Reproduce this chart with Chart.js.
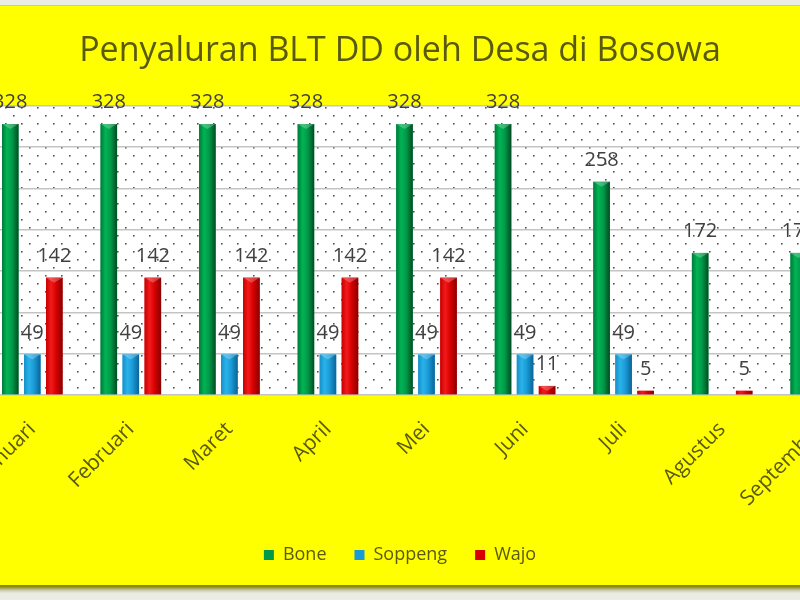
<!DOCTYPE html>
<html>
<head>
<meta charset="utf-8">
<script src="https://cdn.jsdelivr.net/npm/chart.js@4"></script>
<style>
  html, body { margin: 0; padding: 0; width: 800px; height: 600px; overflow: hidden; background: #ecece6; }
  #frame {
    position: absolute; left: -10px; top: 5px; width: 820px; height: 579px;
    background: #ffff00; border-top: 1px solid #c8c8b8;
    box-shadow: 0 3px 2px #8a8a00, 0 6px 3px #b8b890;
  }
  #wrap { position: absolute; left: -70px; top: 0; width: 940px; height: 600px; }
</style>
</head>
<body>
<div id="frame"></div>
<div id="wrap"><canvas id="chart"></canvas></div>
<script>
const months = ["Januari", "Februari", "Maret", "April", "Mei", "Juni", "Juli", "Agustus", "September"];
const bone = [328, 328, 328, 328, 328, 328, 258, 172, 172];
const soppeng = [49, 49, 49, 49, 49, 49, 49, null, null];
const wajo = [142, 142, 142, 142, 142, 11, 5, 5, 5];

const y_ticks = [0, 50, 100, 150, 200, 250, 300, 350];

const text_col = "#5a5a0e";
const font_name = "'Open Sans', sans-serif";

// shading for the round look of the bars: edge, light, mid, dark edge
const shades = [
  ["#007a38", "#00b455", "#009a48", "#004d22"],
  ["#1590c8", "#2bb2ea", "#1a9ad6", "#0a6498"],
  ["#c80000", "#f21a1a", "#d80000", "#880000"],
];

function dot_pattern(ctx) {
  const c = document.createElement("canvas");
  c.width = 16;
  c.height = 16;
  const p = c.getContext("2d");
  p.fillStyle = "#ffffff";
  p.fillRect(0, 0, 16, 16);
  p.fillStyle = "#555555";
  p.fillRect(3, 3, 1.6, 1.6);
  p.fillRect(11, 11, 1.6, 1.6);
  return ctx.createPattern(c, "repeat");
}

const plot_back = {
  id: "plot_back",
  beforeDraw(chart) {
    const { ctx, chartArea: a } = chart;
    ctx.save();
    ctx.fillStyle = dot_pattern(ctx);
    ctx.fillRect(a.left, a.top, a.right - a.left, a.bottom - a.top);
    ctx.restore();
  },
};

const bar_look = {
  id: "bar_look",
  afterDatasetsDraw(chart) {
    const ctx = chart.ctx;
    ctx.save();
    chart.data.datasets.forEach((ds, i) => {
      const meta = chart.getDatasetMeta(i);
      meta.data.forEach((el, j) => {
        const v = ds.data[j];
        if (v === null || v === undefined) return;
        const { x, y, base, width } = el.getProps(["x", "y", "base", "width"], true);
        const l = x - width / 2;
        const g = ctx.createLinearGradient(l, 0, l + width, 0);
        const s = shades[i];
        g.addColorStop(0, s[0]);
        g.addColorStop(0.3, s[1]);
        g.addColorStop(0.6, s[2]);
        g.addColorStop(1, s[3]);
        ctx.fillStyle = g;
        ctx.fillRect(l, y, width, base - y);
        // small cap on top
        if (base - y > 6) {
          ctx.fillStyle = "rgba(255,255,255,0.25)";
          ctx.beginPath();
          ctx.moveTo(l, y);
          ctx.lineTo(l + width, y);
          ctx.lineTo(x, y + 5);
          ctx.closePath();
          ctx.fill();
        }
        // value label
        ctx.fillStyle = "#404040";
        ctx.font = "20px " + font_name;
        ctx.textAlign = "center";
        ctx.textBaseline = "alphabetic";
        ctx.fillText(String(v), x, y - 16);
      });
    });
    ctx.restore();
  },
};

new Chart(document.getElementById("chart"), {
  type: "bar",
  data: {
    labels: months,
    datasets: [
      { label: "Bone", data: bone, backgroundColor: "#009a48" },
      { label: "Soppeng", data: soppeng, backgroundColor: "#1a9ad6" },
      { label: "Wajo", data: wajo, backgroundColor: "#d80000" },
    ],
  },
  options: {
    responsive: true,
    maintainAspectRatio: false,
    animation: false,
    devicePixelRatio: 1,
    categoryPercentage: 0.67,
    barPercentage: 0.75,
    layout: { padding: { top: 16, left: 0, right: 0, bottom: 26 } },
    scales: {
      x: {
        grid: { display: false },
        border: { display: false },
        ticks: {
          color: text_col,
          font: { family: font_name, size: 21 },
          minRotation: 45,
          maxRotation: 45,
          padding: 14,
        },
        afterFit(scale) { scale.height = 123; },
      },
      y: {
        min: 0,
        max: 350,
        afterBuildTicks(scale) { scale.ticks = y_ticks.map((v) => ({ value: v })); },
        ticks: { display: false },
        border: { display: false },
        grid: { color: "#c4c4c4", lineWidth: 1.5, drawTicks: false },
        afterFit(scale) { scale.width = 53; },
      },
    },
    plugins: {
      title: {
        display: true,
        text: "Penyaluran BLT DD oleh Desa di Bosowa",
        color: text_col,
        font: { family: font_name, size: 34, weight: "normal" },
        padding: { top: 15, bottom: 34 },
      },
      legend: {
        position: "bottom",
        labels: {
          color: text_col,
          font: { family: font_name, size: 18 },
          boxWidth: 10,
          boxHeight: 10,
          padding: 28,
        },
      },
      tooltip: { enabled: false },
    },
  },
  plugins: [plot_back, bar_look],
});
</script>
</body>
</html>
